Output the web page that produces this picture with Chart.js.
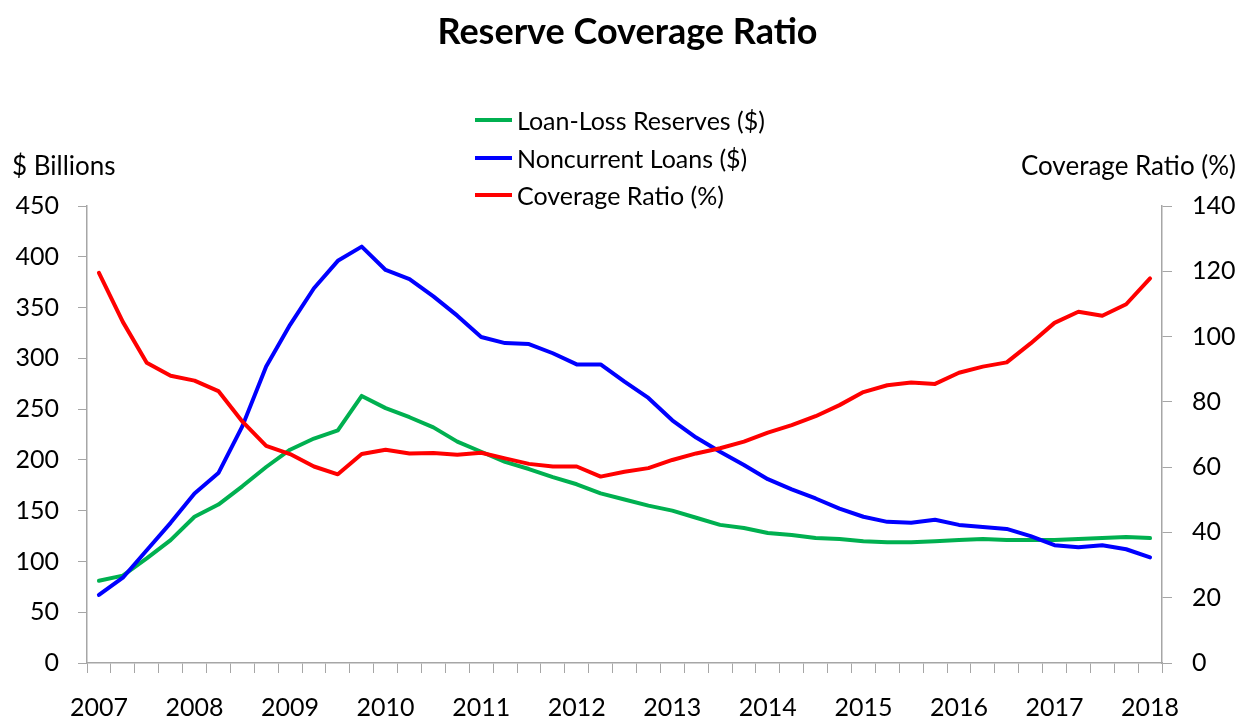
<!DOCTYPE html>
<html>
<head>
<meta charset="utf-8">
<script src="https://cdn.jsdelivr.net/npm/chart.js@4.4.1/dist/chart.umd.min.js"></script>
<style>
  body { margin: 0; background: #fff; font-family: Lato, "Noto Sans", sans-serif; }
  #wrap { position: relative; width: 1247px; height: 728px; }
  canvas { position: absolute; left: 0; top: 0; }
  .txt { position: absolute; color: #000; white-space: nowrap; line-height: 1; }
  #title { left: 0; width: 1255px; text-align: center; top: 12px; font-size: 36px; font-weight: bold; }
  .axis-title { top: 152px; font-size: 26px; }
  .legend-item { position: absolute; left: 475px; height: 26px; font-size: 25px; line-height: 26px; }
  .legend-item span.swatch { position: absolute; left: 0; top: 11px; width: 37px; height: 4px; }
  .legend-item span.label { position: absolute; left: 42px; top: 0; white-space: nowrap; }
</style>
</head>
<body>
<div id="wrap">
  <canvas id="chart" width="1247" height="728"></canvas>
  <div class="txt" id="title">Reserve Coverage Ratio</div>
  <div class="txt axis-title" style="left:12px;">$ Billions</div>
  <div class="txt axis-title" style="right:11px;">Coverage Ratio (%)</div>
  <div id="legend"></div>
</div>
<script>
// ===== DATA =====
const years = ["2007", "2008", "2009", "2010", "2011", "2012", "2013", "2014", "2015", "2016", "2017", "2018"];

// loan-loss reserves, $ billions (quarterly, 2007Q1 - 2018Q1)
const reserves = [81, 86, 103, 121, 144, 156, 174, 193, 210, 221, 229, 263, 251, 242, 232, 218,
  208, 198, 191, 183, 176, 167, 161, 155, 150, 143, 136, 133, 128, 126, 123, 122,
  120, 119, 119, 120, 121, 122, 121, 121, 121, 122, 123, 124, 123];

// noncurrent loans, $ billions
const noncurrent = [67, 84, 111, 138, 167, 187, 233, 292, 333, 369, 396, 410, 387, 378, 361, 342,
  321, 315, 314, 305, 294, 294, 277, 261, 239, 222, 208, 195, 181, 171, 162, 152,
  144, 139, 138, 141, 136, 134, 132, 125, 116, 114, 116, 112, 104];

// coverage ratio, %
const coverage = [119.5, 104.5, 92, 88, 86.5, 83.3, 74, 66.5, 64, 60.2, 57.8, 64, 65.3, 64.2, 64.3, 63.8,
  64.4, 62.7, 61, 60.2, 60.2, 57.1, 58.6, 59.7, 62.2, 64.2, 65.8, 67.8, 70.6, 72.9, 75.6, 79,
  83, 85.1, 85.9, 85.5, 88.9, 90.8, 92.1, 97.9, 104.2, 107.6, 106.4, 109.9, 117.8];

const seriesNames = ["Loan-Loss Reserves ($)", "Noncurrent Loans ($)", "Coverage Ratio (%)"];
const seriesColors = ["#00B050", "#0000FF", "#FF0000"];

// quarter labels, only Q1 gets the year shown
const quarters = [];
years.forEach((y, i) => {
  const n = i === years.length - 1 ? 1 : 4;
  for (let q = 1; q <= n; q++) quarters.push(y + "Q" + q);
});

// ===== LEGEND (html) =====
const legendEl = document.getElementById("legend");
seriesNames.forEach((name, i) => {
  const item = document.createElement("div");
  item.className = "legend-item";
  item.style.top = (107 + i * 37.5) + "px";
  item.innerHTML = `<span class="swatch" style="background:${seriesColors[i]}"></span><span class="label">${name}</span>`;
  legendEl.appendChild(item);
});

// ===== CHART =====
const axisGrey = "#A6A6A6";
const tickFont = { family: "Lato, 'Noto Sans', sans-serif", size: 25 };

new Chart(document.getElementById("chart"), {
  type: "line",
  data: {
    labels: quarters,
    datasets: [
      { label: seriesNames[0], data: reserves, borderColor: seriesColors[0], yAxisID: "y", order: 2 },
      { label: seriesNames[1], data: noncurrent, borderColor: seriesColors[1], yAxisID: "y", order: 1 },
      { label: seriesNames[2], data: coverage, borderColor: seriesColors[2], yAxisID: "y2", order: 0 }
    ]
  },
  options: {
    responsive: false,
    animation: false,
    devicePixelRatio: 1,
    layout: { padding: { top: 206, left: 0, right: 0, bottom: 0 } },
    elements: {
      line: { borderWidth: 4, tension: 0, fill: false, borderCapStyle: "round", borderJoinStyle: "round" },
      point: { radius: 0, hoverRadius: 0 }
    },
    plugins: {
      legend: { display: false },
      title: { display: false },
      tooltip: { enabled: false }
    },
    scales: {
      x: {
        type: "category",
        offset: true,
        grid: { offset: true, drawOnChartArea: false, drawTicks: true, tickLength: 10, color: axisGrey, lineWidth: 1 },
        border: { display: true, color: axisGrey, width: 1.5 },
        ticks: {
          autoSkip: false,
          maxRotation: 0,
          padding: 20,
          color: "#000",
          font: tickFont,
          callback: function (val, idx) {
            return idx % 4 === 0 ? this.getLabelForValue(val).slice(0, 4) : "";
          }
        },
        afterFit: (scale) => { scale.height = 65; }
      },
      y: {
        position: "left",
        min: 0,
        max: 450,
        grid: { drawOnChartArea: false, drawTicks: true, tickLength: 9, color: axisGrey },
        border: { display: true, color: axisGrey, width: 1.5 },
        ticks: { stepSize: 50, padding: 19, color: "#000", font: tickFont },
        afterFit: (scale) => { scale.width = 87; }
      },
      y2: {
        position: "right",
        min: 0,
        max: 140,
        grid: { drawOnChartArea: false, drawTicks: true, tickLength: 10, color: axisGrey },
        border: { display: true, color: axisGrey, width: 1.5 },
        ticks: { stepSize: 20, padding: 20, color: "#000", font: tickFont },
        afterFit: (scale) => { scale.width = 85; }
      }
    }
  }
});
</script>
</body>
</html>
